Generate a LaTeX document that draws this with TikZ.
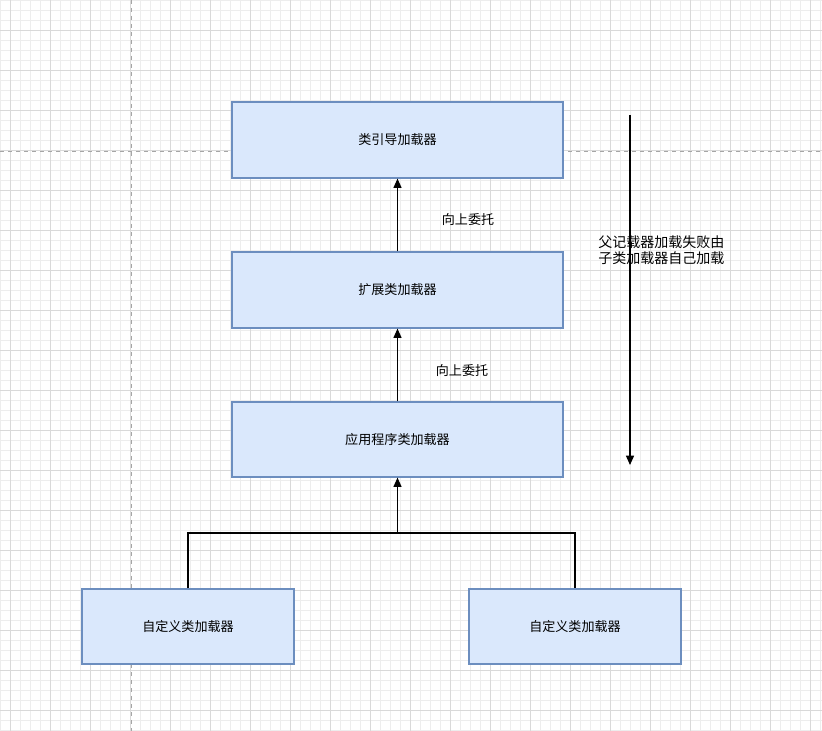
\documentclass[tikz,border=0pt]{standalone}
\usepackage{fontspec}
\setmainfont{Noto Sans CJK SC}
\usetikzlibrary{arrows.meta}
\definecolor{bfill}{HTML}{DAE8FC}
\definecolor{bdraw}{HTML}{6C8EBF}
\begin{document}
\begin{tikzpicture}[x=0.75pt,y=-0.75pt,
  box/.style={draw=bdraw,fill=bfill,line width=0.9pt,font=\fontsize{9.8}{11}\selectfont},
  arr/.style={-{Triangle[length=7pt,width=6pt]},line width=1pt},
  lbl/.style={font=\fontsize{9.8}{11}\selectfont}]
\useasboundingbox (0,0) rectangle (822,731);
\fill[white] (0,0) rectangle (822,731);
\foreach \x in {0,10,...,820} \draw[black!7,line width=0.4pt] (\x,0)--(\x,731);
\foreach \y in {0,10,...,730} \draw[black!7,line width=0.4pt] (0,\y)--(822,\y);
\foreach \x in {10,50,...,810} \draw[black!15,line width=0.4pt] (\x,0)--(\x,731);
\foreach \y in {30,70,...,730} \draw[black!15,line width=0.4pt] (0,\y)--(822,\y);
\draw[black!35,dashed,line width=0.6pt] (131,0)--(131,731);
\draw[black!35,dashed,line width=0.6pt] (0,151)--(822,151);
\node[box,minimum width=331*0.75pt,minimum height=76*0.75pt] (b1) at (397.5,140) {类引导加载器};
\node[box,minimum width=331*0.75pt,minimum height=76*0.75pt] (b2) at (397.5,290) {扩展类加载器};
\node[box,minimum width=331*0.75pt,minimum height=75*0.75pt] (b3) at (397.5,439.5) {应用程序类加载器};
\node[box,minimum width=212*0.75pt,minimum height=75*0.75pt] (c1) at (188,626.5) {自定义类加载器};
\node[box,minimum width=212*0.75pt,minimum height=75*0.75pt] (c2) at (575,626.5) {自定义类加载器};
\draw[arr] (b2.north) -- (b1.south);
\draw[arr] (b3.north) -- (b2.south);
\node[lbl] (l1) at (468,220) {向上委托};
\node[lbl] (l2) at (462,371) {向上委托};
\coordinate (j) at (397.5,533);
\draw[line width=1pt] (c1.north) |- (j) -| (c2.north);
\draw[arr] (j) -- (b3.south);
\coordinate (d1) at (630,115);
\coordinate (d2) at (630,465);
\draw[arr] (d1) -- (d2);
\node[lbl,anchor=north west,align=left,inner sep=0pt,font=\fontsize{10.5}{12.5}\selectfont] (t) at (598,235) {父记载器加载失败由\\子类加载器自己加载};
\end{tikzpicture}
\end{document}
